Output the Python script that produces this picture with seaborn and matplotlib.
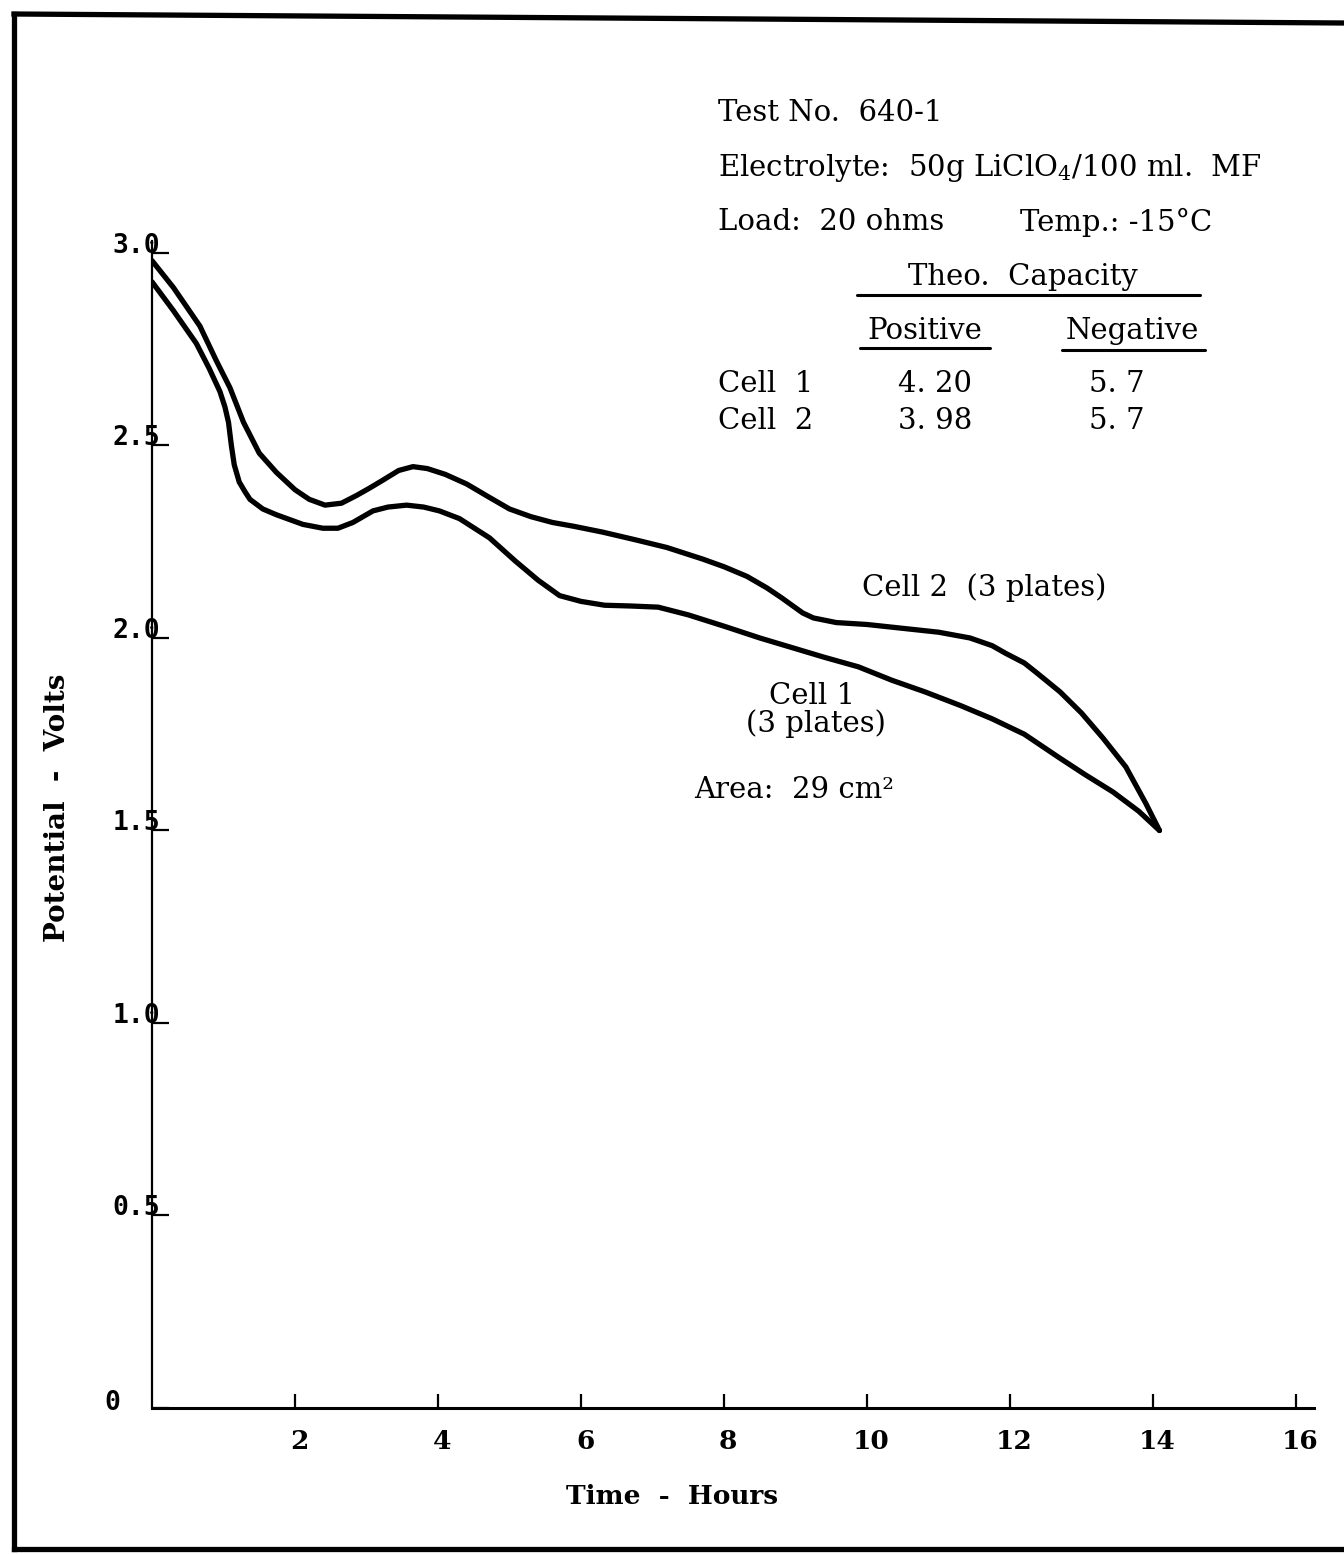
import numpy as np
import pandas as pd
import matplotlib
matplotlib.use("Agg")
import matplotlib.pyplot as plt
from matplotlib.lines import Line2D
from matplotlib.transforms import ScaledTranslation
import seaborn as sns

# ---------------- data ----------------
cell2_hours = [0.0, 0.3, 0.67, 0.9, 1.09, 1.28, 1.5, 1.74, 2.0, 2.2, 2.42, 2.65,
               2.86, 3.05, 3.23, 3.45, 3.65, 3.85, 4.1, 4.4, 4.72, 5.0, 5.3, 5.6,
               5.9, 6.3, 6.76, 7.2, 7.7, 8.0, 8.32, 8.6, 8.8, 8.95, 9.1, 9.25, 9.57, 10.0,
               10.5, 11.0, 11.44, 11.75, 11.94, 12.2, 12.37, 12.7, 13.0, 13.3,
               13.62, 13.9, 14.09]
cell2_volts = [2.98, 2.91, 2.81, 2.72, 2.65, 2.56, 2.48, 2.43, 2.385, 2.36, 2.345, 2.35,
               2.37, 2.39, 2.41, 2.435, 2.445, 2.44, 2.425, 2.40, 2.365, 2.335, 2.315, 2.30,
               2.29, 2.275, 2.255, 2.235, 2.205, 2.185, 2.16, 2.13, 2.105, 2.085, 2.065, 2.052, 2.04, 2.035,
               2.025, 2.015, 2.0, 1.98, 1.96, 1.935, 1.91, 1.86, 1.805, 1.74,
               1.665, 1.57, 1.50]

cell1_hours = [0.0, 0.3, 0.62, 0.8, 0.95, 1.02, 1.07, 1.11, 1.15, 1.22, 1.3, 1.37, 1.55, 1.74,
               2.11, 2.39, 2.6, 2.81, 3.09, 3.3, 3.56, 3.8, 4.02, 4.3, 4.72, 5.08,
               5.4, 5.7, 6.0, 6.33, 6.7, 7.08, 7.5, 8.01, 8.5, 8.95, 9.4, 9.88,
               10.35, 10.81, 11.3, 11.75, 12.2, 12.68, 13.05, 13.44, 13.8, 14.09]
cell1_volts = [2.925, 2.85, 2.765, 2.70, 2.64, 2.60, 2.56, 2.50, 2.45, 2.405, 2.38, 2.36, 2.335, 2.32,
               2.295, 2.285, 2.285, 2.30, 2.33, 2.34, 2.345, 2.34, 2.33, 2.31, 2.26, 2.20,
               2.15, 2.11, 2.095, 2.085, 2.083, 2.08, 2.06, 2.03, 2.00, 1.975, 1.95, 1.925,
               1.89, 1.86, 1.825, 1.79, 1.75, 1.69, 1.645, 1.60, 1.55, 1.50]

x_ticks = [2, 4, 6, 8, 10, 12, 14, 16]
x_tick_labels = ["2", "4", "6", "8", "10", "12", "14", "16"]
y_ticks = [0, 0.5, 1.0, 1.5, 2.0, 2.5, 3.0]
y_tick_labels = ["0", "0.5", "1.0", "1.5", "2.0", "2.5", "3.0"]

df = pd.DataFrame({
    "hours": cell1_hours + cell2_hours,
    "volts": cell1_volts + cell2_volts,
    "cell": ["Cell 1"] * len(cell1_hours) + ["Cell 2"] * len(cell2_hours),
})

# ---------------- figure ----------------
sns.set_theme(style="white")
plt.rcParams["font.family"] = ["DejaVu Serif"]
plt.rcParams["mathtext.fontset"] = "dejavuserif"

W, H = 1344, 1554
fig = plt.figure(figsize=(W / 100, H / 100), dpi=100)
fig.patch.set_facecolor("white")

def fx(px):
    return px / W

def fy(py):
    return 1 - py / H

ax = fig.add_axes([fx(152), fy(1408), 1161.9 / W, 1166.6 / H])
ax.set_facecolor("white")

sns.lineplot(data=df, x="hours", y="volts", hue="cell",
             palette={"Cell 1": "black", "Cell 2": "black"},
             legend=False, linewidth=3.8, sort=False, estimator=None, ax=ax)
for ln in ax.lines:
    ln.set_solid_joinstyle("round")
    ln.set_solid_capstyle("round")

ax.set_xlim(0, 16.25)
ax.set_ylim(0, 3.03)

for s in ["top", "right"]:
    ax.spines[s].set_visible(False)
ax.spines["left"].set_linewidth(1.6)
ax.spines["bottom"].set_linewidth(2.2)
ax.spines["left"].set_color("black")
ax.spines["bottom"].set_color("black")

ax.set_xticks(x_ticks)
ax.set_xticklabels(x_tick_labels, fontsize=19, fontweight="bold", family="DejaVu Serif")
ax.set_yticks(y_ticks)
ax.set_yticklabels(y_tick_labels, fontsize=19, fontweight="bold", family="DejaVu Sans Mono")

ax.tick_params(axis="x", bottom=True, direction="in", length=10, width=1.6, pad=15, colors="black")
ax.tick_params(axis="y", left=True, direction="in", length=12, width=1.6, pad=-6, colors="black")

# shift tick labels like the reference
for lbl, val in zip(ax.get_yticklabels(), y_ticks):
    if val == 0:
        off = ScaledTranslation(-0.40, 0.08, fig.dpi_scale_trans)
    else:
        off = ScaledTranslation(0.0, 0.10, fig.dpi_scale_trans)
    lbl.set_transform(lbl.get_transform() + off)
for lbl in ax.get_xticklabels():
    lbl.set_transform(lbl.get_transform() + ScaledTranslation(0.04, 0, fig.dpi_scale_trans))

ax.set_xlabel("Time  -  Hours", fontsize=19, fontweight="bold", va="center", color="black")
ax.set_ylabel("Potential  -  Volts", fontsize=20, fontweight="bold", va="center", color="black")
ax.xaxis.set_label_coords((672 - 152) / 1161.9, (1408 - 1497) / 1166.6)
ax.yaxis.set_label_coords((58 - 152) / 1161.9, (1408 - 808) / 1166.6)

# ---------------- annotations ----------------
tk = dict(fontsize=21, color="black", va="center")
fig.text(fx(718), fy(113), "Test No.  640-1", ha="left", **tk)
fig.text(fx(718), fy(168), "Electrolyte:  50g LiClO$_4$/100 ml.  MF", ha="left", **tk)
fig.text(fx(718), fy(222), "Load:  20 ohms", ha="left", **tk)
fig.text(fx(1020), fy(222), "Temp.: -15°C", ha="left", **tk)
fig.text(fx(1023), fy(277), "Theo.  Capacity", ha="center", **tk)
fig.text(fx(925), fy(331), "Positive", ha="center", **tk)
fig.text(fx(1132), fy(331), "Negative", ha="center", **tk)
fig.text(fx(718), fy(384), "Cell  1", ha="left", **tk)
fig.text(fx(935), fy(384), "4. 20", ha="center", **tk)
fig.text(fx(1117), fy(384), "5. 7", ha="center", **tk)
fig.text(fx(718), fy(421), "Cell  2", ha="left", **tk)
fig.text(fx(935), fy(421), "3. 98", ha="center", **tk)
fig.text(fx(1117), fy(421), "5. 7", ha="center", **tk)

fig.text(fx(862), fy(588), "Cell 2  (3 plates)", ha="left", **tk)
fig.text(fx(812), fy(696), "Cell 1", ha="center", **tk)
fig.text(fx(816), fy(724), "(3 plates)", ha="center", **tk)
fig.text(fx(694), fy(790), "Area:  29 cm²", ha="left", **tk)

# underlines in the capacity table
for x0, x1, yy in [(857, 1200, 295), (860, 990, 348), (1062, 1205, 350)]:
    fig.add_artist(Line2D([fx(x0), fx(x1)], [fy(yy), fy(yy)], transform=fig.transFigure,
                          color="black", linewidth=2.2))

# outer page frame
frame_kw = dict(transform=fig.transFigure, color="black", linewidth=3.8, solid_capstyle="projecting")
fig.add_artist(Line2D([fx(14), fx(14)], [fy(14), fy(1549)], **frame_kw))
fig.add_artist(Line2D([fx(14), fx(1344)], [fy(14), fy(23)], **frame_kw))
fig.add_artist(Line2D([fx(14), fx(1344)], [fy(1549), fy(1549)], **frame_kw))

fig.savefig("out.png", dpi=100, facecolor="white")
